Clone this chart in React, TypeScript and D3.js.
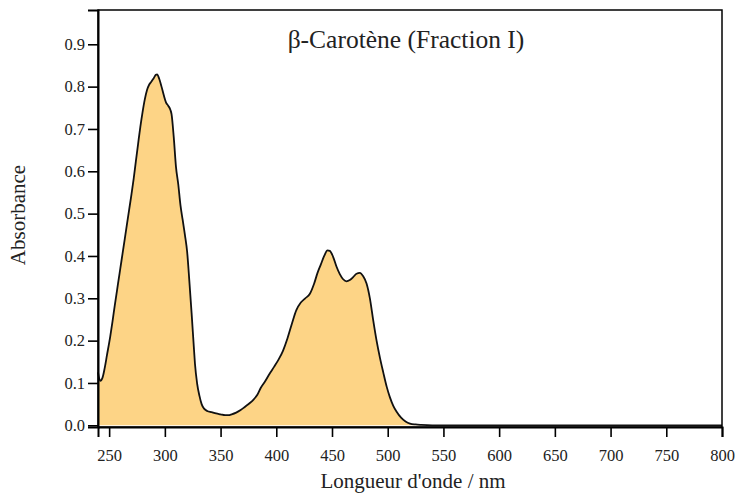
import { useEffect, useRef } from 'react'
import * as d3 from 'd3'

// wavelength (nm) and absorbance
const wavelengths = [
  240, 242, 244, 246, 248, 251, 253, 255, 258, 260, 262, 264, 266, 268, 270, 272, 274, 276, 278, 280,
  282, 284, 286, 288, 290, 292, 293, 295, 297, 299, 301, 303, 305, 306, 308, 310, 312, 314, 316, 318,
  320, 322, 324, 326, 327, 329, 331, 333, 335, 338, 342, 346, 350, 354, 357, 360, 364, 368, 372, 376,
  380, 383, 386, 390, 394, 398, 402, 406, 410, 414, 418, 422, 426, 430, 434, 437, 440, 443, 446, 448,
  451, 454, 457, 460, 463, 466, 469, 472, 475, 478, 481, 484, 487, 490, 493, 496, 499, 502, 505, 508,
  512, 516, 520, 525, 530, 540, 800,
]
const absorbance = [
  0.125, 0.105, 0.112, 0.135, 0.165, 0.21, 0.245, 0.282, 0.335, 0.37, 0.405, 0.44, 0.475, 0.51, 0.545, 0.582, 0.624, 0.665, 0.705, 0.74,
  0.77, 0.792, 0.805, 0.812, 0.82, 0.828, 0.829, 0.818, 0.8, 0.78, 0.763, 0.755, 0.745, 0.735, 0.68, 0.61, 0.57, 0.52, 0.485, 0.45,
  0.41, 0.34, 0.265, 0.185, 0.146, 0.098, 0.07, 0.05, 0.04, 0.034, 0.031, 0.028, 0.026, 0.024, 0.024, 0.026, 0.03, 0.036, 0.044, 0.052,
  0.062, 0.072, 0.088, 0.104, 0.122, 0.138, 0.155, 0.176, 0.205, 0.24, 0.272, 0.29, 0.3, 0.31, 0.335, 0.36, 0.38, 0.4, 0.413, 0.412,
  0.398, 0.375, 0.357, 0.345, 0.34, 0.343, 0.35, 0.358, 0.36, 0.352, 0.335, 0.3, 0.248, 0.2, 0.16, 0.125, 0.092, 0.066, 0.046, 0.032,
  0.018, 0.009, 0.004, 0.002, 0.001, 0, 0,
]
const xTicks = [250, 300, 350, 400, 450, 500, 550, 600, 650, 700, 750, 800]
const yTicks = [0, 0.1, 0.2, 0.3, 0.4, 0.5, 0.6, 0.7, 0.8, 0.9]

const title = 'β-Carotène (Fraction I)'
const xLabel = "Longueur d'onde / nm"
const yLabel = 'Absorbance'

const Chart = () => {
  const svgRef = useRef<SVGSVGElement>(null)

  useEffect(() => {
    if (!svgRef.current) return
    const width = 738
    const height = 494
    const margin = { top: 10, right: 16, bottom: 67, left: 98 }
    const font = '"Liberation Serif", "DejaVu Serif", serif'

    const svg = d3.select(svgRef.current)
    svg.selectAll('*').remove()

    const x = d3.scaleLinear().domain([240, 800]).range([margin.left, width - margin.right])
    const y = d3.scaleLinear().domain([-0.004, 0.981]).range([height - margin.bottom, margin.top])

    const data = wavelengths.map((w, i) => ({ w, a: absorbance[i] }))

    const area = d3.area<{ w: number; a: number }>()
      .x(d => x(d.w))
      .y0(y(0))
      .y1(d => y(d.a))
      .curve(d3.curveMonotoneX)

    const line = d3.line<{ w: number; a: number }>()
      .x(d => x(d.w))
      .y(d => y(d.a))
      .curve(d3.curveMonotoneX)

    svg.append('path')
      .attr('d', area(data))
      .style('fill', '#fdd486')

    svg.append('path')
      .attr('d', line(data))
      .style('fill', 'none')
      .style('stroke', '#111')
      .style('stroke-width', '1.8px')
      .style('stroke-linejoin', 'round')

    // frame
    svg.append('rect')
      .attr('x', margin.left)
      .attr('y', margin.top)
      .attr('width', width - margin.left - margin.right)
      .attr('height', height - margin.top - margin.bottom)
      .style('fill', 'none')
      .style('stroke', '#000')
      .style('stroke-width', '1.5px')

    const xAxis = svg.append('g')
      .attr('transform', `translate(0,${height - margin.bottom})`)
      .call(d3.axisBottom(x).tickValues(xTicks).tickSize(10).tickPadding(12).tickFormat(d3.format('d')))
    xAxis.select('.domain').style('stroke-width', '2px')
    xAxis.selectAll('line').style('stroke-width', '1.6px')
    xAxis.selectAll('text').style('font-family', font).style('font-size', '16.5px').style('fill', '#222')

    const yAxis = svg.append('g')
      .attr('transform', `translate(${margin.left},0)`)
      .call(d3.axisLeft(y).tickValues(yTicks).tickSize(10).tickPadding(3).tickFormat(d3.format('.1f')))
    yAxis.select('.domain').style('stroke-width', '2px')
    yAxis.selectAll('line').style('stroke-width', '1.6px')
    yAxis.selectAll('text').style('font-family', font).style('font-size', '16.5px').style('fill', '#222')

    svg.append('text')
      .attr('x', 406)
      .attr('y', 48)
      .attr('text-anchor', 'middle')
      .style('font-family', font)
      .style('font-size', '25.5px')
      .style('fill', '#222')
      .text(title)

    svg.append('text')
      .attr('x', 413)
      .attr('y', 488)
      .attr('text-anchor', 'middle')
      .style('font-family', font)
      .style('font-size', '21px')
      .style('fill', '#222')
      .text(xLabel)

    svg.append('text')
      .attr('transform', `translate(25,${215}) rotate(-90)`)
      .attr('text-anchor', 'middle')
      .style('font-family', font)
      .style('font-size', '21px')
      .style('fill', '#222')
      .text(yLabel)
  }, [])

  return <svg ref={svgRef} width={738} height={494} style={{ display: 'block' }}></svg>
}

export default function App() {
  return (
    <div style={{ position: 'absolute', left: 0, top: 0, background: '#fff' }}>
      <Chart />
    </div>
  )
}
